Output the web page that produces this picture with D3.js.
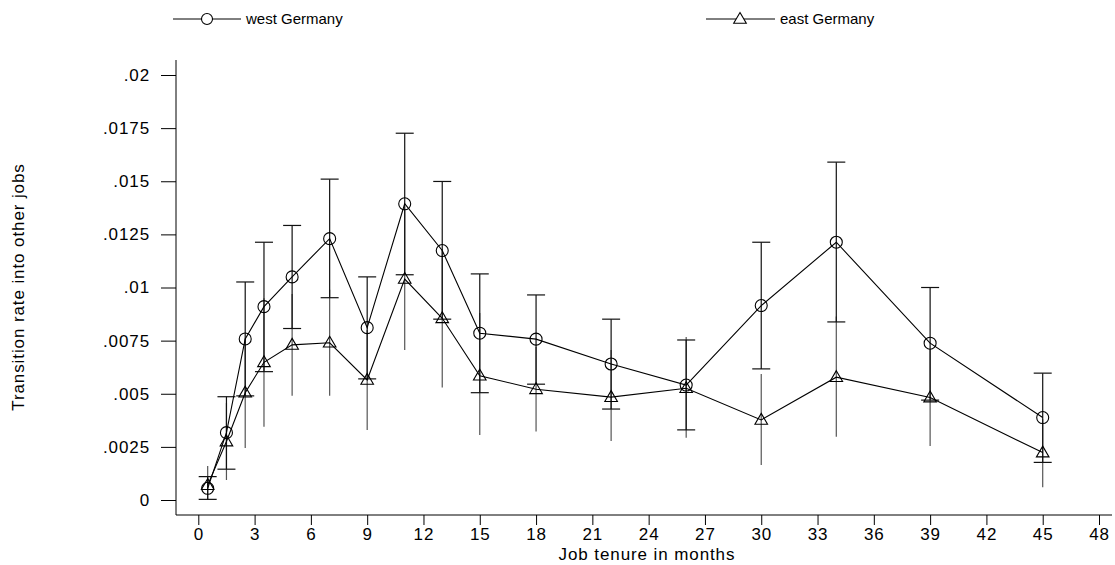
<!DOCTYPE html>
<html>
<head>
<meta charset="utf-8">
<script src="https://cdn.jsdelivr.net/npm/d3@7"></script>
<style>
  html, body { margin: 0; padding: 0; background: #fff; }
  svg { display: block; }
  text { font-family: "Liberation Sans", Arial, sans-serif; fill: #000; }
</style>
</head>
<body>
<svg id="chart" width="1115" height="565"></svg>
<script>
// ---- data ----
const months    = [0.5, 1.5, 2.5, 3.5, 5, 7, 9, 11, 13, 15, 18, 22, 26, 30, 34, 39, 45];
const westRate  = [0.00055, 0.00317, 0.00758, 0.0091, 0.0105, 0.0123, 0.00811, 0.01394, 0.01174, 0.00785, 0.00757, 0.0064, 0.00541, 0.00915, 0.01213, 0.00738, 0.00388];
const westLow   = [0.00003, 0.00145, 0.0049, 0.00604, 0.00807, 0.00952, 0.0057, 0.0106, 0.00851, 0.00505, 0.00545, 0.00428, 0.0033, 0.00617, 0.00838, 0.0047, 0.00177];
const westHigh  = [0.0011, 0.00486, 0.01026, 0.01213, 0.01292, 0.0151, 0.0105, 0.01726, 0.01499, 0.01064, 0.00965, 0.00851, 0.00753, 0.01213, 0.0159, 0.01, 0.00597];
const eastRate  = [0.0007, 0.00275, 0.00505, 0.00648, 0.0073, 0.0074, 0.00565, 0.0104, 0.00855, 0.00585, 0.00521, 0.00484, 0.00526, 0.00377, 0.00578, 0.00482, 0.00223];
const eastLow   = [0.0, 0.00094, 0.00245, 0.00345, 0.00491, 0.00491, 0.0033, 0.00706, 0.00529, 0.00306, 0.00322, 0.00278, 0.00293, 0.00165, 0.00298, 0.00254, 0.0006];
const eastHigh  = [0.0016, 0.00456, 0.0076, 0.0095, 0.0097, 0.0099, 0.008, 0.0137, 0.0118, 0.0088, 0.0072, 0.00706, 0.00767, 0.00593, 0.00863, 0.0071, 0.0038];

const xTickValues = [0, 3, 6, 9, 12, 15, 18, 21, 24, 27, 30, 33, 36, 39, 42, 45, 48];
const yTickValues = [0, 0.0025, 0.005, 0.0075, 0.01, 0.0125, 0.015, 0.0175, 0.02];
const yTickLabels = ["0", ".0025", ".005", ".0075", ".01", ".0125", ".015", ".0175", ".02"];
const seriesNames = ["west Germany", "east Germany"];
const xTitle = "Job tenure in months";
const yTitle = "Transition rate into other jobs";

// ---- layout ----
const svg = d3.select("#chart");
const axisLeftX = 176, axisBottomY = 515, axisTopY = 60, axisRightX = 1112;
const x = d3.scaleLinear().domain([0, 48]).range([198.3, 1099]);
const y = d3.scaleLinear().domain([0, 0.02]).range([500, 75]);
const FS = 17, LS = "0.9px";

svg.append("rect").attr("width", 1115).attr("height", 565).attr("fill", "#fff");

// axes
const yAxis = d3.axisLeft(y).tickValues(yTickValues)
  .tickFormat((d, i) => yTickLabels[i]).tickSize(15).tickPadding(11);
const gy = svg.append("g").attr("transform", `translate(${axisLeftX},0)`).call(yAxis);
gy.select(".domain").remove();
gy.selectAll(".tick line").attr("stroke", "#000");
gy.selectAll(".tick text").attr("font-size", FS).style("letter-spacing", LS)
  .attr("font-family", "Liberation Sans, Arial, sans-serif");

const xAxis = d3.axisBottom(x).tickValues(xTickValues).tickFormat(d3.format("d"))
  .tickSize(10).tickPadding(3);
const gx = svg.append("g").attr("transform", `translate(0,${axisBottomY})`).call(xAxis);
gx.select(".domain").remove();
gx.selectAll(".tick line").attr("stroke", "#000");
gx.selectAll(".tick text").attr("font-size", FS).style("letter-spacing", LS)
  .attr("font-family", "Liberation Sans, Arial, sans-serif");

svg.append("line").attr("x1", axisLeftX).attr("x2", axisLeftX)
  .attr("y1", axisTopY).attr("y2", axisBottomY).attr("stroke", "#000");
svg.append("line").attr("x1", axisLeftX).attr("x2", axisRightX)
  .attr("y1", axisBottomY).attr("y2", axisBottomY).attr("stroke", "#000");

// titles
svg.append("text").attr("x", 647).attr("y", 560).attr("text-anchor", "middle")
  .attr("font-size", FS).style("letter-spacing", LS).text(xTitle);
svg.append("text").attr("transform", "translate(24,287) rotate(-90)")
  .attr("text-anchor", "middle").attr("font-size", FS).style("letter-spacing", LS).text(yTitle);

// data rows
const west = months.map((m, i) => ({ m, v: westRate[i], lo: westLow[i], hi: westHigh[i] }));
const east = months.map((m, i) => ({ m, v: eastRate[i], lo: eastLow[i], hi: eastHigh[i] }));

// east error bars (no caps, grey)
svg.append("g").selectAll("line").data(east).join("line")
  .attr("x1", d => x(d.m)).attr("x2", d => x(d.m))
  .attr("y1", d => y(d.lo)).attr("y2", d => y(d.hi))
  .attr("stroke", "#555").attr("stroke-width", 1.2);

// west error bars with caps
const capW = 9;
const wb = svg.append("g");
wb.selectAll("line.v").data(west).join("line").attr("class", "v")
  .attr("x1", d => x(d.m)).attr("x2", d => x(d.m))
  .attr("y1", d => y(d.lo)).attr("y2", d => y(d.hi))
  .attr("stroke", "#111").attr("stroke-width", 1.2);
wb.selectAll("line.ch").data(west).join("line").attr("class", "ch")
  .attr("x1", d => x(d.m) - capW).attr("x2", d => x(d.m) + capW)
  .attr("y1", d => y(d.hi)).attr("y2", d => y(d.hi))
  .attr("stroke", "#111").attr("stroke-width", 1.2);
wb.selectAll("line.cl").data(west).join("line").attr("class", "cl")
  .attr("x1", d => x(d.m) - capW).attr("x2", d => x(d.m) + capW)
  .attr("y1", d => y(d.lo)).attr("y2", d => y(d.lo))
  .attr("stroke", "#111").attr("stroke-width", 1.2);

// connecting lines
const line = d3.line().x(d => x(d.m)).y(d => y(d.v));
svg.append("path").datum(east).attr("d", line).attr("fill", "none").attr("stroke", "#000").attr("stroke-width", 1.1);
svg.append("path").datum(west).attr("d", line).attr("fill", "none").attr("stroke", "#000").attr("stroke-width", 1.1);

// markers
const tri = "M0,-6.5L6.3,4.3L-6.3,4.3Z";
svg.append("g").selectAll("path").data(east).join("path")
  .attr("transform", d => `translate(${x(d.m)},${y(d.v)})`)
  .attr("d", tri).attr("fill", "none").attr("stroke", "#000").attr("stroke-width", 1.1);
svg.append("g").selectAll("circle").data(west).join("circle")
  .attr("cx", d => x(d.m)).attr("cy", d => y(d.v)).attr("r", 6)
  .attr("fill", "none").attr("stroke", "#000").attr("stroke-width", 1.1);

// legend
const legY = 19, LFS = 15;
const lg = svg.append("g");
// west
lg.append("line").attr("x1", 173).attr("x2", 241).attr("y1", legY).attr("y2", legY).attr("stroke", "#000");
lg.append("circle").attr("cx", 207).attr("cy", legY).attr("r", 5.5).attr("fill", "#fff").attr("stroke", "#000").attr("stroke-width", 1.1);
lg.append("text").attr("x", 246).attr("y", legY + 5).attr("font-size", LFS).text(seriesNames[0]);
// east
lg.append("line").attr("x1", 706).attr("x2", 775).attr("y1", legY).attr("y2", legY).attr("stroke", "#000");
lg.append("path").attr("transform", `translate(740,${legY})`).attr("d", tri).attr("fill", "#fff").attr("stroke", "#000").attr("stroke-width", 1.1);
lg.append("text").attr("x", 780).attr("y", legY + 5).attr("font-size", LFS).text(seriesNames[1]);
</script>
</body>
</html>
